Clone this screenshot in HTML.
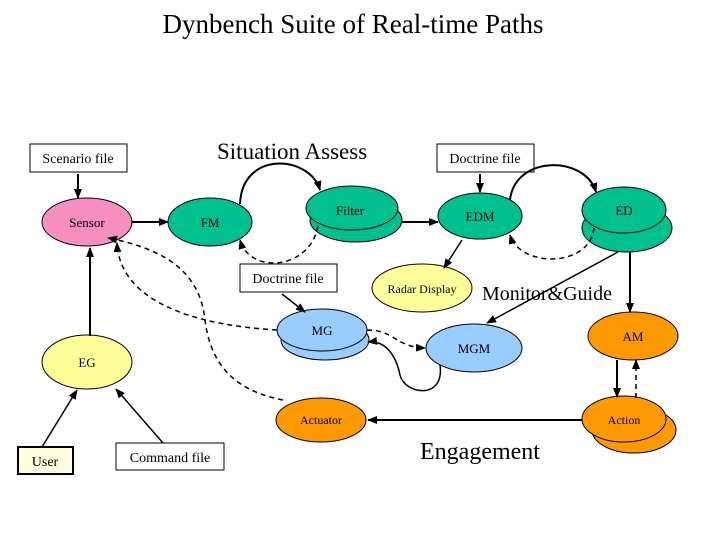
<!DOCTYPE html>
<html><head><meta charset="utf-8"><style>html,body{margin:0;padding:0;background:#fff}svg{display:block}</style></head>
<body>
<svg width="720" height="540" viewBox="0 0 720 540" xmlns="http://www.w3.org/2000/svg" font-family="Liberation Serif, serif">
<defs>
<marker id="a" markerWidth="10" markerHeight="8" refX="9" refY="4" orient="auto" markerUnits="userSpaceOnUse"><path d="M0,0 L10,4 L0,8 z" fill="#000"/></marker>
</defs>
<text x="353" y="33" font-size="27" text-anchor="middle">Dynbench Suite of Real-time Paths</text>
<text x="217" y="159" font-size="23">Situation Assess</text>
<text x="482" y="300" font-size="20">Monitor&amp;Guide</text>
<text x="420" y="459" font-size="24">Engagement</text>

<g stroke="#000" stroke-width="1" font-size="14">
<rect x="30" y="144" width="97" height="28" fill="#fff"/>
<rect x="437" y="144" width="97" height="28" fill="#fff"/>
<rect x="240" y="264" width="97" height="28" fill="#fff"/>
<rect x="18" y="447" width="55" height="27" fill="#fffde0" stroke-width="2"/>
<rect x="116" y="443" width="108" height="27" fill="#fff"/>

<ellipse cx="87" cy="222" rx="45" ry="24" fill="#f48fc0"/>
<ellipse cx="210" cy="222" rx="42" ry="24" fill="#00c090"/>
<ellipse cx="356" cy="220" rx="46" ry="22" fill="#00c090"/>
<ellipse cx="352" cy="208" rx="46" ry="22" fill="#00c090"/>
<ellipse cx="480" cy="216" rx="42" ry="23" fill="#00c090"/>
<ellipse cx="627" cy="228" rx="45" ry="24" fill="#00c090"/>
<ellipse cx="624" cy="210" rx="42" ry="23" fill="#00c090"/>
<ellipse cx="422" cy="288" rx="50" ry="24" fill="#ffff99"/>
<ellipse cx="325" cy="340" rx="44" ry="20" fill="#99ccff"/>
<ellipse cx="322" cy="330" rx="45" ry="21" fill="#99ccff"/>
<ellipse cx="87" cy="362" rx="45" ry="27" fill="#ffff99"/>
<ellipse cx="474" cy="348" rx="48" ry="24" fill="#99ccff"/>
<ellipse cx="633" cy="336" rx="45" ry="24" fill="#ff9900"/>
<ellipse cx="321" cy="420" rx="45" ry="22" fill="#ff9900"/>
<ellipse cx="634" cy="430" rx="42" ry="23" fill="#ff9900"/>
<ellipse cx="624" cy="419" rx="42" ry="23" fill="#ff9900"/>
</g>
<g font-size="13" text-anchor="middle" fill="#000">
<text x="78" y="163" font-size="14">Scenario file</text>
<text x="485" y="163" font-size="14">Doctrine file</text>
<text x="288" y="283" font-size="14">Doctrine file</text>
<text x="45" y="466" font-size="14">User</text>
<text x="170" y="462" font-size="14">Command file</text>
<text x="87" y="227">Sensor</text>
<text x="210" y="227">FM</text>
<text x="350" y="215">Filter</text>
<text x="480" y="221">EDM</text>
<text x="624" y="215">ED</text>
<text x="422" y="293" font-size="12">Radar Display</text>
<text x="322" y="335">MG</text>
<text x="87" y="367">EG</text>
<text x="474" y="353">MGM</text>
<text x="633" y="341">AM</text>
<text x="321" y="424" font-size="12">Actuator</text>
<text x="624" y="424" font-size="12">Action</text>
</g>
<g stroke="#000" stroke-width="2" fill="none" marker-end="url(#a)">
<path d="M78,174 L78,198"/>
<path d="M132,222 L168,222"/>
<path d="M240,204 C242,150 310,155 320,190"/>
<path d="M402,222 L438,222"/>
<path d="M480,174 L480,192"/>
<path d="M510,200 C515,155 585,155 596,192"/>
<path d="M630,252 L630,312"/>
<path d="M617,360 L617,397"/>
<path d="M582,420 L368,420"/>
<path d="M90,336 L90,248"/>
</g>
<g stroke="#000" stroke-width="1.5" fill="none" marker-end="url(#a)">
<path d="M462,240 L444,268"/>
<path d="M618,252 L487,323"/>
<path d="M282,294 L305,312"/>
<path d="M42,447 L77,390"/>
<path d="M163,443 L116,389"/>
<path d="M440,365 C445,400 405,395 400,375 C396,355 385,340 368,342"/>
</g>
<g stroke="#000" stroke-width="1.5" fill="none" stroke-dasharray="5,4" marker-end="url(#a)">
<path d="M318,226 C310,270 250,275 240,240"/>
<path d="M594,228 C590,268 520,268 510,235"/>
<path d="M636,398 L636,360"/>
<path d="M367,330 C395,330 395,347 425,348"/>
<path d="M277,330 C190,325 120,300 117,243"/>
<path d="M283,400 C230,390 210,360 205,320 C200,275 170,250 108,238"/>
</g>
</svg>
</body></html>
